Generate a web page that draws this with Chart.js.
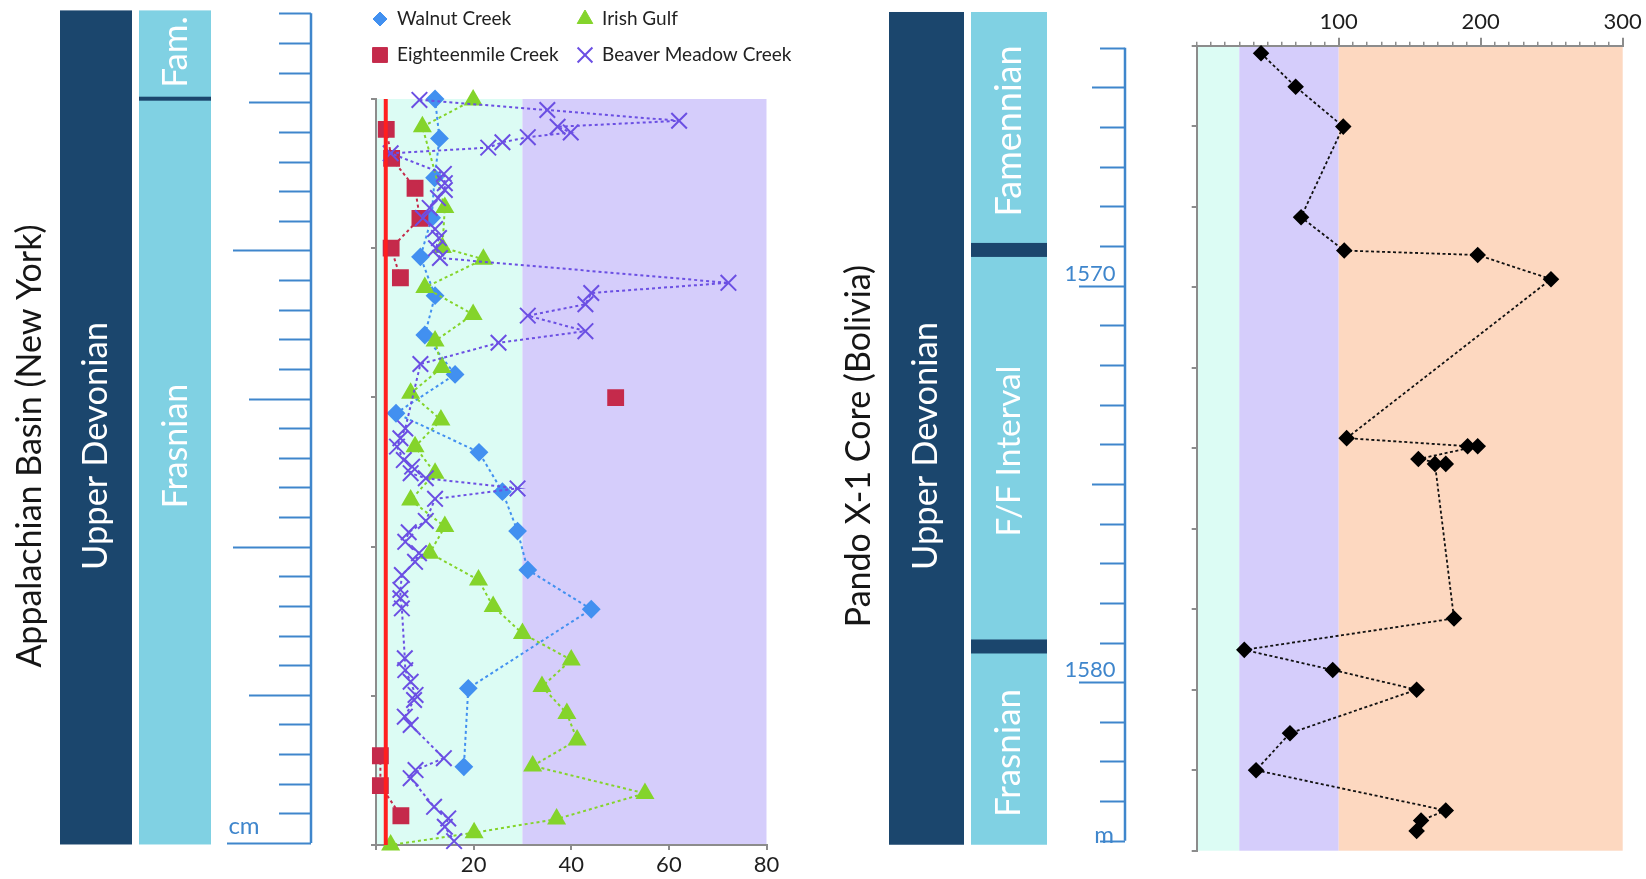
<!DOCTYPE html>
<html>
<head>
<meta charset="utf-8">
<title>Appalachian Basin (New York) / Pando X-1 Core (Bolivia)</title>
<script src="https://cdn.jsdelivr.net/npm/chart.js@4.4.1/dist/chart.umd.min.js"></script>
<style>
  html, body { margin: 0; padding: 0; background: #ffffff; }
  #figure { position: relative; width: 1646px; height: 879px; overflow: hidden; }
  #figure canvas { position: absolute; top: 0; }
  #ny-chart { left: 0; }
  #pando-chart { left: 800px; }
</style>
</head>
<body>
<div id="figure">
  <canvas id="ny-chart" width="800" height="879"></canvas>
  <canvas id="pando-chart" width="846" height="879"></canvas>
</div>
<script>
// ---- Appalachian Basin (New York): height in section (cm) vs value ----
const walnutHeights = [250, 236.8, 223.6, 210.2, 197.1, 184.1, 170.9, 157.7, 144.7, 131.6, 118.4, 105.2, 92.2, 79.0, 52.5, 26.2];
const walnutValues = [12.1, 13.0, 12.0, 11.4, 9.1, 12.1, 10.0, 16.2, 4.1, 21.1, 25.9, 29.0, 31.1, 44.1, 18.9, 18.0];

const irishHeights = [249.7, 240.7, 213.6, 200.2, 196.3, 186.8, 177.8, 168.9, 160.0, 151.4, 142.4, 133.5, 124.6, 115.6,
    106.7, 97.8, 88.8, 79.9, 70.9, 62.0, 53.1, 44.1, 35.2, 26.5, 17.3, 8.7, 4.1, 0];
const irishValues = [19.9, 9.5, 14.1, 13.6, 22.0, 10.0, 19.9, 12.1, 13.5, 7.1, 13.3, 8.0, 12.1, 7.1,
    14.1, 11.0, 21.0, 24.0, 30.0, 40.0, 34.0, 39.1, 41.2, 32.1, 55.1, 37.0, 20.1, 3.0];

// null = break in the line
const eighteenHeights = [239.8, 230.1, 220.1, 210.0, 200.0, 190.1, null, 149.9, null, 29.9, 19.9, 9.8];
const eighteenValues = [2.1, 3.2, 8.0, 9.0, 3.1, 5.0, null, 49.1, null, 0.9, 0.9, 5.1];

const beaverHeights = [249.7, 246.3, 242.7, 240.7, 238.8, 237.2, 235.5, 233.7, 231.8, 224.9, 221.8, 219.5, 216.8, 213.5,
    210.1, 206.4, 203.4, 200.0, 196.7, 188.4, 185.0, 181.2, 177.4, 172.2, 168.3, 161.2, 139.6, 136.3, 133.5, 129.0,
    126.8, 124.6, 122.9, 119.5, 116.0, 108.6, 104.8, 101.6, 97.8, 94.9, 90.5, 85.5, 82.7, 79.3, 62.6, 58.6, 54.7,
    50.3, 48.6, 43.0, 40.2, 29.1, 25.1, 22.4, 12.8, 8.9, 6.1, 1.3];
const beaverValues = [8.9, 35.1, 62.1, 37.2, 39.9, 31.1, 25.9, 23.0, 3.0, 13.9, 14.1, 14.1, 12.7, 11.0,
    9.6, 12.1, 12.9, 12.3, 13.1, 72.2, 44.1, 42.9, 31.1, 42.9, 25.1, 9.1, 6.0, 5.0, 4.3, 5.7,
    7.4, 7.1, 10.2, 29.0, 12.1, 10.2, 6.7, 6.0, 8.8, 8.0, 5.3, 5.0, 5.0, 5.3, 5.9, 6.0, 7.1,
    8.1, 7.8, 5.9, 7.1, 13.9, 8.1, 7.1, 11.9, 14.8, 14.1, 16.0];

const cutoffHeights = [0, 250];
const cutoffValues = [2, 2];

const nyZoneEdges = [0, 30, 80];
const nyEra = "Upper Devonian";
const nyStages = ["Fam.", "Frasnian"];
const nyStageBounds = [281, 251.2, -0.5];   // on the cm ruler
const nyRulerMid = [50, 150, 250];
const nyRulerLong = [100, 200];

// ---- Pando X-1 Core (Bolivia): depth (m) vs value ----
const pandoDepths = [1564.19, 1565.02, 1566.01, 1568.26, 1569.09, 1569.2, 1569.8, 1573.75, 1573.95, 1573.95, 1574.27,
    1574.39, 1574.39, 1578.23, 1579.01, 1579.51, 1580.0, 1581.08, 1582.0, 1583.0, 1583.25, 1583.51];
const pandoValues = [45.3, 69.7, 103.2, 73.5, 103.9, 197.9, 249.5, 105.6, 190.8, 197.9, 156.1,
    175.4, 167.8, 181.2, 33.5, 95.8, 154.9, 65.7, 41.8, 175.4, 158.0, 154.9];

const pandoZoneEdges = [0, 30, 100, 300];
const pandoEra = "Upper Devonian";
const pandoStages = ["Famennian", "F/F Interval", "Frasnian"];
const pandoStageBounds = [1563.1, 1569.1, 1579.1, 1584.1];   // on the m ruler
const pandoRulerMid = [1565, 1575];
const pandoRulerLabels = [1570, 1580];

// ---- styles ----
const DARK = "#1b466d";
const LIGHT = "#80d1e3";
const RULER_BLUE = "#3f86cc";
const AXIS_GREY = "#8c8c8c";
const ZONE_COLORS = ["#dcfcf4", "#d5cdfb", "#fdd8c0"];
const FONT = "Lato";

const BLUE = "#4290f0";
const GREEN = "#84d42b";
const CRIMSON = "#c52a4b";
const PURPLE = "#6b4fe3";
const RED = "#ff1f1f";

function toPoints(xs, ys) {
    return xs.map((x, i) => (x === null || ys[i] === null ? { x: null, y: null } : { x: x, y: ys[i] }));
}

function vText(ctx, text, x, y, size, color) {
    ctx.save();
    ctx.translate(x, y);
    ctx.rotate(-Math.PI / 2);
    ctx.font = size + "px " + FONT;
    ctx.fillStyle = color;
    ctx.textAlign = "center";
    ctx.textBaseline = "middle";
    ctx.fillText(text, 0, 0);
    ctx.restore();
}

function hText(ctx, text, x, y, size, color) {
    ctx.save();
    ctx.font = size + "px " + FONT;
    ctx.fillStyle = color;
    ctx.textAlign = "center";
    ctx.textBaseline = "middle";
    ctx.fillText(text, x, y);
    ctx.restore();
}

function drawZones(chart, edges) {
    const ctx = chart.ctx;
    const xs = chart.scales.x;
    const area = chart.chartArea;
    for (let i = 0; i < edges.length - 1; i++) {
        const x0 = xs.getPixelForValue(edges[i]);
        const x1 = xs.getPixelForValue(edges[i + 1]);
        ctx.fillStyle = ZONE_COLORS[i];
        ctx.fillRect(x0, area.top, x1 - x0, area.bottom - area.top);
    }
}

// stratigraphic column: era bar + stage bar with boundaries
function drawColumn(ctx, scale, bounds, col) {
    const top = scale.getPixelForValue(bounds[0]);
    const bottom = scale.getPixelForValue(bounds[bounds.length - 1]);
    ctx.fillStyle = DARK;
    ctx.fillRect(col.eraX0, top, col.eraX1 - col.eraX0, bottom - top);
    ctx.fillStyle = LIGHT;
    ctx.fillRect(col.stageX0, top, col.stageX1 - col.stageX0, bottom - top);
    ctx.fillStyle = DARK;
    for (let i = 1; i < bounds.length - 1; i++) {
        const yb = scale.getPixelForValue(bounds[i]);
        ctx.fillRect(col.stageX0, yb - col.lineW / 2, col.stageX1 - col.stageX0, col.lineW);
    }
}

function drawRuler(ctx, scale, r) {
    ctx.save();
    ctx.strokeStyle = RULER_BLUE;
    ctx.lineWidth = 2.5;
    ctx.beginPath();
    ctx.moveTo(r.lineX, scale.getPixelForValue(r.from));
    ctx.lineTo(r.lineX, scale.getPixelForValue(r.to));
    ctx.stroke();
    ctx.lineWidth = 2;
    const n = Math.round(Math.abs(r.to - r.from) / r.step);
    for (let k = 0; k <= n; k++) {
        const v = Math.min(r.from, r.to) + k * r.step;
        let x0 = r.shortX;
        if (r.mid.includes(v)) x0 = r.midX;
        if (r.long.includes(v)) x0 = r.longX;
        if (r.base !== undefined && v === r.base) x0 = r.baseX;
        const y = Math.round(scale.getPixelForValue(v)) + 0.5;
        ctx.beginPath();
        ctx.moveTo(x0, y);
        ctx.lineTo(r.lineX, y);
        ctx.stroke();
    }
    ctx.restore();
}

function marker(ctx, style, radius, color, x, y) {
    ctx.save();
    ctx.fillStyle = color;
    ctx.strokeStyle = color;
    ctx.lineWidth = style === "crossRot" ? 2 : 1;
    Chart.helpers.drawPoint(ctx, { pointStyle: style, radius: radius, borderWidth: ctx.lineWidth, rotation: 0 }, x, y);
    ctx.restore();
}

const nyDecor = {
    id: "nyDecor",
    beforeDraw(chart) {
        const ctx = chart.ctx;
        const yr = chart.scales.yr;
        drawZones(chart, nyZoneEdges);
        drawColumn(ctx, yr, nyStageBounds, { eraX0: 60, eraX1: 132, stageX0: 139, stageX1: 211, lineW: 4 });
        vText(ctx, "Appalachian Basin (New York)", 30, 446, 34, "#161616");
        vText(ctx, nyEra, 96, 446, 34.5, "#ffffff");
        vText(ctx, nyStages[0], 176, 52, 35, "#ffffff");
        vText(ctx, nyStages[1], 176, 446, 34, "#ffffff");
        drawRuler(ctx, yr, {
            lineX: 311, from: 0, to: 280, step: 10,
            shortX: 279, midX: 249, longX: 233, mid: nyRulerMid, long: nyRulerLong, base: 0, baseX: 227
        });
        hText(ctx, "cm", 244, 826, 24, RULER_BLUE);
    },
    afterDraw(chart) {
        // legend, two columns
        const ctx = chart.ctx;
        const cols = [380, 585];
        const rows = [19, 55];
        [0, 1, 2, 3].forEach((di, k) => {
            const ds = chart.data.datasets[di];
            const cx = cols[k % 2];
            const cy = rows[Math.floor(k / 2)];
            marker(ctx, ds.pointStyle, ds.legendRadius, ds.pointBackgroundColor || ds.borderColor, cx, cy);
            ctx.save();
            ctx.font = "19px " + FONT;
            ctx.fillStyle = "#222222";
            ctx.textAlign = "left";
            ctx.textBaseline = "middle";
            ctx.fillText(ds.label, cx + 17, cy);
            ctx.restore();
        });
    }
};

const pandoDecor = {
    id: "pandoDecor",
    beforeDraw(chart) {
        const ctx = chart.ctx;
        const yr = chart.scales.yr;
        drawZones(chart, pandoZoneEdges);
        drawColumn(ctx, yr, pandoStageBounds, { eraX0: 89, eraX1: 164, stageX0: 171, stageX1: 247, lineW: 14 });
        vText(ctx, "Pando X-1 Core (Bolivia)", 59, 446, 34, "#161616");
        vText(ctx, pandoEra, 126, 446, 34.5, "#ffffff");
        vText(ctx, pandoStages[0], 209, 131, 36, "#ffffff");
        vText(ctx, pandoStages[1], 209, 451, 33.5, "#ffffff");
        vText(ctx, pandoStages[2], 209, 753, 35, "#ffffff");
        drawRuler(ctx, yr, {
            lineX: 325, from: 1564, to: 1584, step: 1,
            shortX: 300, midX: 292, longX: 279, mid: pandoRulerMid, long: pandoRulerLabels
        });
        pandoRulerLabels.forEach((v) => {
            hText(ctx, String(v), 290, yr.getPixelForValue(v) - 12, 22, RULER_BLUE);
        });
        hText(ctx, "m", 304, yr.getPixelForValue(1584) - 6, 24, RULER_BLUE);
    }
};

function buildCharts() {
    Chart.defaults.font.family = FONT;

    new Chart(document.getElementById("ny-chart"), {
        type: "scatter",
        data: {
            datasets: [
                {
                    label: "Walnut Creek", data: toPoints(walnutValues, walnutHeights), showLine: true,
                    borderColor: BLUE, borderWidth: 2, borderDash: [3, 3],
                    pointStyle: "rectRot", pointRadius: 8, legendRadius: 7,
                    pointBackgroundColor: BLUE, pointBorderColor: BLUE, order: 4, clip: false
                },
                {
                    label: "Irish Gulf", data: toPoints(irishValues, irishHeights), showLine: true,
                    borderColor: GREEN, borderWidth: 2, borderDash: [3, 3],
                    pointStyle: "triangle", pointRadius: 9, legendRadius: 9,
                    pointBackgroundColor: GREEN, pointBorderColor: GREEN, order: 3, clip: false
                },
                {
                    label: "Eighteenmile Creek", data: toPoints(eighteenValues, eighteenHeights), showLine: true,
                    borderColor: CRIMSON, borderWidth: 2, borderDash: [3, 3], spanGaps: false,
                    pointStyle: "rect", pointRadius: 10.5, legendRadius: 10.5,
                    pointBackgroundColor: CRIMSON, pointBorderColor: CRIMSON, order: 2, clip: false
                },
                {
                    label: "Beaver Meadow Creek", data: toPoints(beaverValues, beaverHeights), showLine: true,
                    borderColor: PURPLE, borderWidth: 2, borderDash: [3, 3],
                    pointStyle: "crossRot", pointRadius: 11, legendRadius: 10.5, pointBorderWidth: 2,
                    pointBackgroundColor: PURPLE, pointBorderColor: PURPLE, order: 1, clip: false
                },
                {
                    label: "cutoff", data: toPoints(cutoffValues, cutoffHeights), showLine: true,
                    borderColor: RED, borderWidth: 4, pointRadius: 0, order: 0, clip: false
                }
            ]
        },
        options: {
            responsive: false,
            animation: false,
            events: [],
            layout: { padding: { left: 366, right: 33.5, top: 99, bottom: 0 } },
            plugins: { legend: { display: false }, tooltip: { enabled: false } },
            scales: {
                x: {
                    type: "linear", position: "bottom", min: 0, max: 80,
                    ticks: {
                        stepSize: 20, padding: 2, color: "#1e1e1e", font: { size: 22 },
                        callback: (v) => (v === 0 ? "" : v)
                    },
                    grid: { drawOnChartArea: false, tickLength: 5, color: AXIS_GREY, lineWidth: 2 },
                    border: { color: AXIS_GREY, width: 2 },
                    afterFit: (s) => { s.height = 34; }
                },
                y: {
                    type: "linear", position: "left", min: 0, max: 250,
                    ticks: { stepSize: 50, display: false },
                    grid: { drawOnChartArea: false, tickLength: 5, color: AXIS_GREY, lineWidth: 2 },
                    border: { color: AXIS_GREY, width: 2 },
                    afterFit: (s) => { s.width = 10; }
                },
                // cm ruler beside the column
                yr: { type: "linear", display: false, min: -0.675, max: 251.1 }
            }
        },
        plugins: [nyDecor]
    });

    new Chart(document.getElementById("pando-chart"), {
        type: "scatter",
        data: {
            datasets: [
                {
                    label: "Pando X-1", data: toPoints(pandoValues, pandoDepths), showLine: true,
                    borderColor: "#111111", borderWidth: 1.8, borderDash: [3, 2.5],
                    pointStyle: "rectRot", pointRadius: 7,
                    pointBackgroundColor: "#000000", pointBorderColor: "#000000", clip: false
                }
            ]
        },
        options: {
            responsive: false,
            animation: false,
            events: [],
            layout: { padding: { left: 386.7, right: 23.3, top: 0, bottom: 28.3 } },
            plugins: { legend: { display: false }, tooltip: { enabled: false } },
            scales: {
                x: {
                    type: "linear", position: "top", weight: 1, min: 0, max: 300,
                    ticks: {
                        stepSize: 100, padding: 3, color: "#1e1e1e", font: { size: 22 },
                        callback: (v) => (v === 0 ? "" : v)
                    },
                    grid: {
                        drawOnChartArea: false, tickLength: 8, lineWidth: 2,
                        tickColor: (c) => (c.tick && c.tick.value === 0 ? "rgba(0,0,0,0)" : AXIS_GREY)
                    },
                    border: { color: AXIS_GREY, width: 2 },
                    afterFit: (s) => { s.height = 45.7; }
                },
                xMinor: {
                    type: "linear", position: "top", weight: 0, min: 0, max: 300,
                    ticks: { stepSize: 10, display: false, autoSkip: false },
                    grid: { drawOnChartArea: false, tickLength: 4, color: AXIS_GREY, lineWidth: 1.5 },
                    border: { display: false },
                    afterFit: (s) => { s.height = 0; }
                },
                y: {
                    type: "linear", position: "left", min: 1564, max: 1584, reverse: true,
                    ticks: { stepSize: 2, display: false },
                    grid: { drawOnChartArea: false, tickLength: 5, color: AXIS_GREY, lineWidth: 2 },
                    border: { color: AXIS_GREY, width: 2 },
                    afterFit: (s) => { s.width = 10; }
                },
                // m ruler beside the column
                yr: { type: "linear", display: false, min: 1563.95, max: 1584.25, reverse: true }
            }
        },
        plugins: [pandoDecor]
    });
}

Promise.all([document.fonts.load("34px Lato"), document.fonts.load("19px Lato")])
    .then(buildCharts, buildCharts);
</script>
</body>
</html>
